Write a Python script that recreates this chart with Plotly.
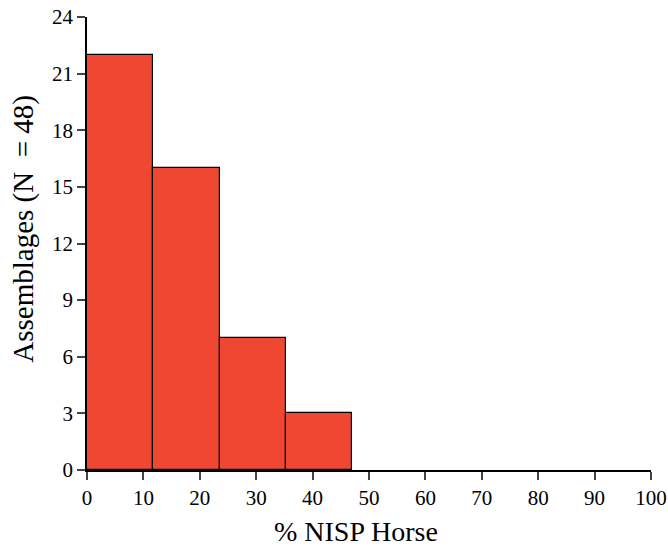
import plotly.graph_objects as go

bin_edges = [0, 11.75, 23.5, 35.25, 47.0]
counts = [22, 16, 7, 3]
x_ticks = [0, 10, 20, 30, 40, 50, 60, 70, 80, 90, 100]
y_ticks = [0, 3, 6, 9, 12, 15, 18, 21, 24]
x_title = "% NISP Horse"
y_title = "Assemblages (N\u00a0\u00a0= 48)"

centers = [(a + b) / 2 for a, b in zip(bin_edges[:-1], bin_edges[1:])]
widths = [b - a for a, b in zip(bin_edges[:-1], bin_edges[1:])]

fig = go.Figure(go.Bar(
    x=centers, y=counts, width=widths,
    marker=dict(color="#F04733", line=dict(color="black", width=1.2)),
))

font = "Liberation Serif, Times New Roman, serif"
fig.update_layout(
    width=668, height=548,
    margin=dict(l=87, r=17, t=17, b=78, autoexpand=False),
    plot_bgcolor="white", paper_bgcolor="white",
    font=dict(family=font, color="black", size=21),
    showlegend=False,
    bargap=0,
    annotations=[
        dict(text=x_title, xref="paper", yref="paper", x=0.477, y=-0.136,
             xanchor="center", yanchor="middle", showarrow=False,
             font=dict(size=28)),
        dict(text=y_title, xref="paper", yref="paper", x=-0.114, y=0.532,
             xanchor="center", yanchor="middle", showarrow=False, textangle=-90,
             font=dict(size=29)),
    ],
)
fig.update_xaxes(
    range=[0, 100], tickvals=x_ticks, ticks="outside", ticklen=8, tickwidth=1.5,
    showline=True, linecolor="black", linewidth=1.5, showgrid=False, zeroline=False,
    tickfont=dict(size=21), automargin=False, ticklabeloverflow="allow",
)
fig.update_yaxes(
    range=[0, 24], tickvals=y_ticks, ticks="outside", ticklen=8, tickwidth=1.5,
    showline=True, linecolor="black", linewidth=1.5, showgrid=False, zeroline=False,
    tickfont=dict(size=21), automargin=False, ticklabeloverflow="allow",
)
fig.write_html("out.html", post_script="document.body.style.margin='0';",
               config={"displayModeBar": False})
